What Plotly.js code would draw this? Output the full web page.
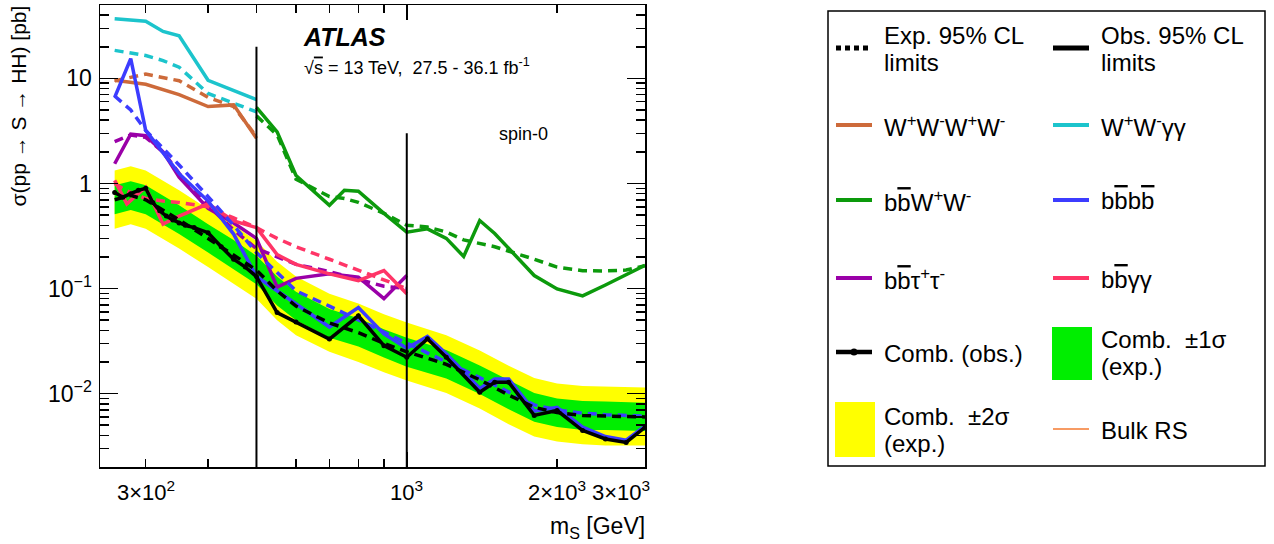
<!DOCTYPE html>
<html><head><meta charset="utf-8">
<script src="https://cdn.plot.ly/plotly-3.0.1.min.js"></script>
<style>body{margin:0;background:#fff}#chart{width:1274px;height:544px}</style>
</head><body><div id="chart"></div>
<script>
// ---------------- data ----------------
const comb_exp_mass = [260, 280, 300, 350, 400, 450, 500, 550, 600, 700, 800, 900, 1000, 1200, 1400, 1600, 1800, 2000, 2250, 2500, 3000];
const comb_exp     = [0.70, 0.77, 0.70, 0.45, 0.30, 0.21, 0.15, 0.095, 0.068, 0.047, 0.038, 0.030, 0.025, 0.019, 0.0135, 0.0097, 0.0074, 0.0066, 0.0062, 0.0061, 0.0060];
const comb_up2     = [1.33, 1.46, 1.33, 0.86, 0.57, 0.40, 0.285, 0.18, 0.13, 0.089, 0.072, 0.057, 0.0475, 0.036, 0.0257, 0.0184, 0.0141, 0.0125, 0.0118, 0.0116, 0.0114];
const comb_up1     = [0.96, 1.05, 0.96, 0.62, 0.41, 0.29, 0.205, 0.13, 0.093, 0.064, 0.052, 0.041, 0.034, 0.026, 0.0185, 0.0133, 0.0101, 0.0090, 0.0085, 0.0084, 0.0082];
const comb_dn1     = [0.51, 0.56, 0.51, 0.33, 0.22, 0.153, 0.11, 0.069, 0.050, 0.034, 0.028, 0.022, 0.018, 0.0139, 0.0099, 0.0071, 0.0054, 0.0048, 0.0045, 0.0045, 0.0044];
const comb_dn2     = [0.37, 0.41, 0.37, 0.24, 0.16, 0.111, 0.080, 0.050, 0.036, 0.025, 0.020, 0.016, 0.0133, 0.0101, 0.0072, 0.0051, 0.0039, 0.0035, 0.0033, 0.0032, 0.0032];

const comb_obs_mass = [260, 270, 280, 290, 300, 310, 320, 330, 340, 350, 360, 375, 400, 425, 450, 475, 500, 550, 600, 700, 800, 900, 1000, 1100, 1200, 1400, 1500, 1600, 1800, 2000, 2250, 2500, 2750, 3000];
const comb_obs      = [0.82, 0.74, 0.80, 0.86, 0.90, 0.66, 0.55, 0.49, 0.45, 0.42, 0.40, 0.38, 0.34, 0.25, 0.19, 0.16, 0.13, 0.059, 0.048, 0.033, 0.055, 0.0286, 0.0222, 0.0332, 0.0222, 0.0103, 0.0128, 0.0128, 0.0062, 0.0069, 0.00445, 0.0037, 0.00343, 0.00478];

const wwww_mass = [260, 300, 350, 400, 450, 500];
const wwww_obs  = [9.6, 8.8, 7.0, 5.4, 5.6, 2.7];
const wwww_exp  = [9.5, 11.0, 9.5, 6.6, 5.4, 2.8];

const wwyy_mass = [260, 300, 325, 350, 400, 450, 500];
const wwyy_obs  = [37, 35, 28, 25.5, 9.6, 7.7, 6.3];
const wwyy_exp  = [18.5, 16.5, 14.8, 12.8, 7.2, 5.8, 4.8];

const bbww_mass = [500, 550, 600, 700, 750, 800, 900, 1000, 1100, 1200, 1300, 1400, 1500, 1800, 2000, 2250, 2500, 2750, 3000];
const bbww_obs  = [5.3, 3.1, 1.19, 0.62, 0.86, 0.845, 0.52, 0.344, 0.37, 0.30, 0.202, 0.444, 0.334, 0.133, 0.099, 0.085, 0.108, 0.135, 0.166];
const bbww_exp  = [4.4, 2.9, 1.10, 0.75, 0.72, 0.66, 0.52, 0.40, 0.385, 0.345, 0.29, 0.27, 0.25, 0.19, 0.16, 0.148, 0.147, 0.150, 0.165];

const bbbb_mass = [260, 280, 300, 350, 400, 450, 500, 600, 700, 800, 900, 1000, 1100, 1200, 1400, 1500, 1600, 1800, 2000, 2250, 2500, 2750, 3000];
const bbbb_obs  = [6.6, 15.4, 3.2, 1.24, 0.68, 0.33, 0.13, 0.072, 0.043, 0.066, 0.037, 0.027, 0.035, 0.024, 0.0112, 0.0138, 0.0138, 0.0068, 0.0074, 0.0048, 0.0039, 0.0036, 0.0049];
const bbbb_exp  = [6.8, 5.0, 3.2, 1.5, 0.75, 0.40, 0.22, 0.095, 0.068, 0.050, 0.038, 0.030, 0.024, 0.020, 0.0142, 0.012, 0.0103, 0.0078, 0.0070, 0.0065, 0.0063, 0.0062, 0.0061];

const bbtt_mass = [260, 280, 300, 325, 350, 400, 450, 500, 550, 600, 700, 800, 900, 1000];
const bbtt_obs  = [1.54, 2.95, 2.85, 2.0, 1.15, 0.58, 0.42, 0.30, 0.103, 0.125, 0.138, 0.128, 0.080, 0.133];
const bbtt_exp  = [2.5, 2.9, 2.75, 2.0, 1.25, 0.62, 0.36, 0.24, 0.20, 0.17, 0.145, 0.123, 0.105, 0.100];

const bbyy_mass = [260, 275, 300, 325, 350, 400, 450, 500, 550, 600, 700, 800, 900, 1000];
const bbyy_obs  = [1.07, 0.64, 0.92, 0.41, 0.49, 0.64, 0.44, 0.38, 0.21, 0.17, 0.138, 0.119, 0.148, 0.089];
const bbyy_exp  = [1.0, 0.85, 0.72, 0.68, 0.66, 0.60, 0.47, 0.38, 0.30, 0.25, 0.19, 0.15, 0.12, 0.10];

const divider_mass = [500, 1000];
const divider_top  = [20, 3];

const x_tick_vals   = [300, 1000, 2000, 3000];
const x_tick_labels = ['3×10<sup>2</sup>', '10<sup>3</sup>', '2×10<sup>3</sup>', '3×10<sup>3</sup>'];
const y_tick_vals   = [0.01, 0.1, 1, 10];
const y_tick_labels = ['10<sup>−2</sup>', '10<sup>−1</sup>', '1', '10'];

// ---------------- styling ----------------
const F = 'Liberation Sans, Arial, Helvetica, sans-serif';
const L = 100, R = 645, T = 5, B = 467;
const px = x => (x - L) / (R - L);
const py = y => (B - y) / (B - T);
const C = {
  wwww: '#cd6a3a', wwyy: '#1cc4cc', bbww: '#0c9a0c', bbbb: '#3c3cff',
  bbtt: '#9a00a8', bbyy: '#ff3567', g1: '#00ee00', g2: '#ffff00', rs: '#f47a30'
};
const DASH = '9px,6px';
const bb = 'b<span style="text-decoration:overline">b</span>';

const traces = [];
traces.push({x: comb_exp_mass, y: comb_dn2, mode: 'lines', line: {width: 0}, hoverinfo: 'skip'});
traces.push({x: comb_exp_mass, y: comb_up2, mode: 'lines', line: {width: 0}, fill: 'tonexty', fillcolor: C.g2});
traces.push({x: comb_exp_mass, y: comb_dn1, mode: 'lines', line: {width: 0}});
traces.push({x: comb_exp_mass, y: comb_up1, mode: 'lines', line: {width: 0}, fill: 'tonexty', fillcolor: C.g1});

function pair(m, obs, exp, col) {
  traces.push({x: m, y: exp, mode: 'lines', line: {color: col, width: 3.5, dash: DASH}});
  traces.push({x: m, y: obs, mode: 'lines', line: {color: col, width: 3.5}});
}
pair(wwyy_mass, wwyy_obs, wwyy_exp, C.wwyy);
pair(wwww_mass, wwww_obs, wwww_exp, C.wwww);
pair(bbww_mass, bbww_obs, bbww_exp, C.bbww);
pair(bbtt_mass, bbtt_obs, bbtt_exp, C.bbtt);
pair(bbyy_mass, bbyy_obs, bbyy_exp, C.bbyy);
pair(bbbb_mass, bbbb_obs, bbbb_exp, C.bbbb);
traces.push({x: comb_exp_mass, y: comb_exp, mode: 'lines', line: {color: 'black', width: 3.5, dash: DASH}});
traces.push({x: comb_obs_mass, y: comb_obs, mode: 'lines+markers', line: {color: 'black', width: 3.5},
  marker: {color: 'black', size: 5, symbol: 'circle'}});

// ---------------- shapes & annotations ----------------
const shapes = [];
const ann = [];
divider_mass.forEach((m, i) => {
  shapes.push({type: 'line', xref: 'x', yref: 'y', x0: m, x1: m,
    y0: 0.002, y1: divider_top[i], line: {color: 'black', width: 2}, layer: 'above'});
});

x_tick_vals.forEach((v, i) => {
  const last = i === x_tick_vals.length - 1;
  ann.push({text: x_tick_labels[i], xref: 'x', yref: 'paper', x: Math.log10(v), y: py(491),
    xanchor: last ? 'right' : 'center', xshift: last ? 7 : 0, yanchor: 'middle', showarrow: false,
    font: {family: F, size: 22, color: 'black'}});
});
ann.push({text: 'm<sub>S</sub> [GeV]', xref: 'paper', yref: 'paper', x: px(647), y: py(527),
  xanchor: 'right', yanchor: 'middle', showarrow: false, font: {family: F, size: 23, color: 'black'}});
ann.push({text: 'σ(pp → S → HH) [pb]', textangle: -90, xref: 'paper', yref: 'paper', x: px(18), y: py(4),
  xanchor: 'center', yanchor: 'top', showarrow: false, font: {family: F, size: 21, color: 'black'}});
ann.push({text: '<b><i>ATLAS</i></b>', xref: 'paper', yref: 'paper', x: px(301), y: py(37),
  xanchor: 'left', yanchor: 'middle', showarrow: false, font: {family: F, size: 25, color: 'black'}});
ann.push({text: '√<span style="text-decoration:overline">s</span> = 13 TeV,  27.5 - 36.1 fb<sup>-1</sup>', xref: 'paper', yref: 'paper', x: px(302), y: py(66),
  xanchor: 'left', yanchor: 'middle', showarrow: false, font: {family: F, size: 18, color: 'black'}});
ann.push({text: 'spin-0', xref: 'paper', yref: 'paper', x: px(497), y: py(134),
  xanchor: 'left', yanchor: 'middle', showarrow: false, font: {family: F, size: 18, color: 'black'}});

// legend
shapes.push({type: 'rect', xref: 'paper', yref: 'paper', x0: px(828), x1: px(1265), y0: py(11), y1: py(466),
  line: {color: 'black', width: 1.5}, fillcolor: 'rgba(0,0,0,0)'});
const legend_labels = [
  ['Exp. 95% CL', 'limits'], ['Obs. 95% CL', 'limits'],
  ['W<sup>+</sup>W<sup>-</sup>W<sup>+</sup>W<sup>-</sup>'], ['W<sup>+</sup>W<sup>-</sup>γγ'],
  [bb + 'W<sup>+</sup>W<sup>-</sup>'], [bb + bb],
  [bb + 'τ<sup>+</sup>τ<sup>-</sup>'], [bb + 'γγ'],
  ['Comb. (obs.)'], ['Comb.  ±1σ', '(exp.)'],
  ['Comb.  ±2σ', '(exp.)'], ['Bulk RS']
];
const legend_kind = ['dot', 'solid', C.wwww, C.wwyy, C.bbww, C.bbbb, C.bbtt, C.bbyy, 'obs', 'box1', 'box2', 'rs'];
const rowY = [48, 125, 200, 278, 352, 429];
const symX = [836, 1053], txtX = [882, 1099];
legend_labels.forEach((lab, i) => {
  const col = i % 2, row = Math.floor(i / 2);
  const yc = rowY[row];
  const xs = symX[col];
  const k = legend_kind[i];
  const line = (c, w, dash) => shapes.push({type: 'line', xref: 'paper', yref: 'paper',
    x0: px(xs), x1: px(xs + 36), y0: py(yc), y1: py(yc), line: {color: c, width: w, dash: dash || 'solid'}});
  if (k === 'dot') line('black', 5, '5px,4px');
  else if (k === 'solid') line('black', 5);
  else if (k === 'obs') {
    line('black', 4.5);
    shapes.push({type: 'circle', xref: 'paper', yref: 'paper', x0: px(xs + 14.5), x1: px(xs + 21.5),
      y0: py(yc + 3.5), y1: py(yc - 3.5), fillcolor: 'black', line: {width: 0}});
  } else if (k === 'box1' || k === 'box2') {
    const h = k === 'box1' ? [327, 380] : [402, 457];
    shapes.push({type: 'rect', xref: 'paper', yref: 'paper', x0: px(xs - 1), x1: px(xs + 39),
      y0: py(h[1]), y1: py(h[0]), fillcolor: k === 'box1' ? C.g1 : C.g2, line: {width: 0}});
  } else if (k === 'rs') line(C.rs, 1.5);
  else line(k, 4);
  const offs = lab.length === 2 ? [-13.5, 13.5] : [0];
  lab.forEach((t, j) => {
    ann.push({text: t, xref: 'paper', yref: 'paper', x: px(txtX[col]), y: py(yc + offs[j] + 1),
      xanchor: 'left', yanchor: 'middle', showarrow: false, font: {family: F, size: 24, color: 'black'}});
  });
});

const minorX = [300, 400, 500, 600, 700, 800, 900, 2000, 3000];
const minorY = [0.002,0.003,0.004,0.005,0.006,0.007,0.008,0.009,0.02,0.03,0.04,0.05,0.06,0.07,0.08,0.09,
  0.2,0.3,0.4,0.5,0.6,0.7,0.8,0.9,2,3,4,5,6,7,8,9,20,30,40,50];

const layout = {
  width: 1274, height: 544, showlegend: false,
  paper_bgcolor: 'white', plot_bgcolor: 'white',
  margin: {l: L, r: 1274 - R, t: T, b: 544 - B, pad: 0},
  font: {family: F, color: 'black'},
  xaxis: {type: 'log', range: [Math.log10(243), Math.log10(3000)], showline: true, mirror: 'allticks',
    linecolor: 'black', linewidth: 1.5, ticks: 'inside', ticklen: 15, tickwidth: 1.5, tickcolor: 'black',
    tickmode: 'array', tickvals: [1000], showticklabels: false, showgrid: false, zeroline: false,
    minor: {ticks: 'inside', ticklen: 8, tickwidth: 1.5, tickcolor: 'black', tickmode: 'array', tickvals: minorX, showgrid: false}},
  yaxis: {type: 'log', range: [Math.log10(0.002), Math.log10(50)], showline: true, mirror: 'allticks',
    linecolor: 'black', linewidth: 1.5, ticks: 'inside', ticklen: 18, tickwidth: 1.5, tickcolor: 'black',
    tickmode: 'array', tickvals: y_tick_vals, ticktext: y_tick_labels, showgrid: false, zeroline: false,
    tickfont: {family: F, size: 23, color: 'black'}, ticklabelstandoff: 2,
    minor: {ticks: 'inside', ticklen: 9, tickwidth: 1.5, tickcolor: 'black', tickmode: 'array', tickvals: minorY, showgrid: false}},
  shapes: shapes, annotations: ann
};
Plotly.newPlot('chart', traces, layout, {staticPlot: true, displayModeBar: false});
</script>
</body></html>
